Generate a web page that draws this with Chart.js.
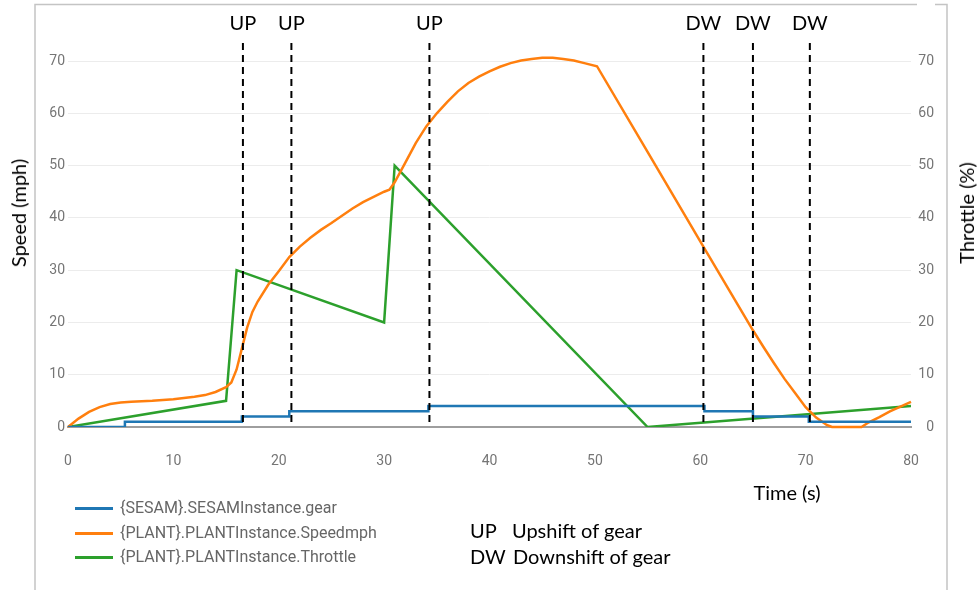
<!DOCTYPE html>
<html>
<head>
<meta charset="utf-8">
<script src="https://cdn.jsdelivr.net/npm/chart.js@4.4.1/dist/chart.umd.min.js"></script>
<style>
    body { margin: 0; background: #fff; }
    #wrap { position: relative; width: 979px; height: 590px; overflow: hidden; }
    #chart { position: absolute; left: 0; top: 0; }
    .note { position: absolute; font-family: Lato, 'Open Sans', sans-serif; font-size: 20px; color: #000; white-space: nowrap; line-height: 1; }
    .rot { transform: translate(-50%, -50%) rotate(-90deg); }
    .ctr { transform: translate(-50%, -50%); }
    .mid { transform: translateY(-50%); }
    .leg { position: absolute; left: 75px; font-family: Roboto, sans-serif; font-size: 16px; color: #666; white-space: nowrap; line-height: 1; transform: translateY(-50%); }
    .leg i { display: inline-block; width: 38px; height: 3px; vertical-align: middle; margin-right: 7px; }
</style>
</head>
<body>
<div id="wrap">
    <canvas id="chart" width="979" height="590"></canvas>
    <div class="note rot" style="left:18px; top:213px;">Speed (mph)</div>
    <div class="note rot" style="left:966px; top:213px;">Throttle (%)</div>
    <div class="note ctr" style="left:787px; top:492px;">Time (s)</div>
    <div class="note mid" style="left:470px; top:530px;">UP<span style="position:absolute; left:42px;">Upshift of gear</span></div>
    <div class="note mid" style="left:470px; top:556px;">DW<span style="position:absolute; left:43px;">Downshift of gear</span></div>
    <div id="legend"></div>
</div>
<script>
// series names and colours
const seriesNames = ['{SESAM}.SESAMInstance.gear', '{PLANT}.PLANTInstance.Speedmph', '{PLANT}.PLANTInstance.Throttle'];
const seriesColors = ['#1f77b4', '#ff7f0e', '#2ca02c'];

// gear (step line)
const gearT = [0, 5.4, 16.5, 21, 34.2, 60.4, 65, 70.3, 80];
const gearV = [0, 1, 2, 3, 4, 3, 2, 1, 1];

// speed in mph
const speedT = [0, 1, 2, 3, 4, 5, 6, 8, 10, 12, 13, 14, 15, 15.5, 16, 16.5, 17, 17.5, 18, 19, 20,
    21, 22, 23, 24, 25, 26, 27, 28, 29, 30, 30.5, 31, 32, 33, 34, 35, 36, 37, 38, 39, 40,
    41, 42, 43, 44, 45, 46, 47, 48, 49, 50.2, 55, 60, 65, 66, 67, 68, 69, 70, 71, 72, 72.5,
    75.3, 76, 77, 78, 79, 80];
const speedV = [0, 1.6, 2.9, 3.8, 4.4, 4.7, 4.85, 5.0, 5.3, 5.8, 6.1, 6.7, 7.6, 8.5, 11, 15, 19, 22, 24, 27.2, 29.8,
    32.5, 34.5, 36.2, 37.7, 39, 40.4, 41.8, 43, 44, 45, 45.4, 46.8, 50.5, 54.3, 57.5, 60, 62.2, 64.2, 65.8, 67, 68,
    68.9, 69.6, 70.1, 70.4, 70.6, 70.6, 70.4, 70.1, 69.6, 69, 52.6, 35.5, 18.5, 15.3, 12.2, 9.2, 6.5, 3.8, 1.8, 0.4, 0,
    0, 0.9, 1.9, 3.0, 3.9, 4.8];

// throttle in %
const throttleT = [0, 15, 16, 30, 31, 55, 80];
const throttleV = [0, 5, 30, 20, 50, 0, 4];

// gear shift markers
const shiftT = [16.6, 21.2, 34.3, 60.3, 65, 70.4];
const shiftLabels = ['UP', 'UP', 'UP', 'DW', 'DW', 'DW'];

const toXY = (xs, ys) => xs.map((x, i) => ({ x: x, y: ys[i] }));

// legend
let legendHtml = '';
seriesNames.forEach((n, i) => {
    legendHtml += '<div class="leg" style="top:' + (508 + i * 24.5) + 'px;"><i style="background:' + seriesColors[i] + '"></i>' + n + '</div>';
});
document.getElementById('legend').innerHTML = legendHtml;

// frame round the chart
const framePlugin = {
    id: 'frame',
    beforeDraw(chart) {
        let c = chart.ctx;
        c.save();
        c.strokeStyle = '#c4c4c4';
        c.lineWidth = 1.5;
        c.beginPath();
        c.moveTo(35, 590); c.lineTo(35, 4.5); c.lineTo(917, 4.5);
        c.moveTo(935, 4.5); c.lineTo(947, 4.5); c.lineTo(947, 590);
        c.stroke();
        c.restore();
    }
};

// dashed lines at each gear shift
const shiftPlugin = {
    id: 'shifts',
    afterDatasetsDraw(chart) {
        let c = chart.ctx;
        let area = chart.chartArea;
        let x = chart.scales.x;
        c.save();
        c.strokeStyle = '#000';
        c.fillStyle = '#000';
        c.lineWidth = 2;
        c.setLineDash([7, 5]);
        c.font = '20px Lato';
        c.textAlign = 'center';
        c.textBaseline = 'middle';
        shiftT.forEach((t, i) => {
            let px = x.getPixelForValue(t);
            c.beginPath();
            c.moveTo(px, area.top - 18);
            c.lineTo(px, area.bottom);
            c.stroke();
            c.fillText(shiftLabels[i], px, area.top - 37);
        });
        c.restore();
    }
};

const tickStyle = { color: '#757575', font: { family: 'Roboto', size: 14 } };

let grafico = new Chart(document.getElementById('chart').getContext('2d'), {
    type: 'line',
    data: {
        datasets: [{
                label: seriesNames[0],
                data: toXY(gearT, gearV),
                borderColor: seriesColors[0],
                stepped: true,
                yAxisID: 'y'
            },
            {
                label: seriesNames[1],
                data: toXY(speedT, speedV),
                borderColor: seriesColors[1],
                clip: false,
                yAxisID: 'y'
            },
            {
                label: seriesNames[2],
                data: toXY(throttleT, throttleV),
                borderColor: seriesColors[2],
                yAxisID: 'y1'
            }
        ]
    },
    options: {
        responsive: false,
        animation: false,
        layout: { padding: { left: 35, right: 45, top: 61, bottom: 113 } },
        elements: {
            point: { radius: 0 },
            line: { borderWidth: 2.5, tension: 0 }
        },
        plugins: {
            legend: { display: false },
            tooltip: { enabled: false }
        },
        scales: {
            x: {
                type: 'linear',
                min: 0,
                max: 80,
                ticks: Object.assign({ stepSize: 10, padding: 26 }, tickStyle),
                grid: { display: false, drawTicks: false },
                border: { color: '#9e9e9e', width: 2 },
                afterFit: s => { s.height = 50; }
            },
            y: {
                min: 0,
                max: 70,
                ticks: Object.assign({ stepSize: 10, padding: 3 }, tickStyle),
                grid: { color: '#ececec', drawTicks: false },
                border: { display: false },
                afterFit: s => { s.width = 33; }
            },
            y1: {
                position: 'right',
                min: 0,
                max: 70,
                ticks: Object.assign({ stepSize: 10, padding: 3, crossAlign: 'far' }, tickStyle),
                grid: { display: false, drawTicks: false },
                border: { display: false },
                afterFit: s => { s.width = 23; }
            }
        }
    },
    plugins: [framePlugin, shiftPlugin]
});
</script>
</body>
</html>
